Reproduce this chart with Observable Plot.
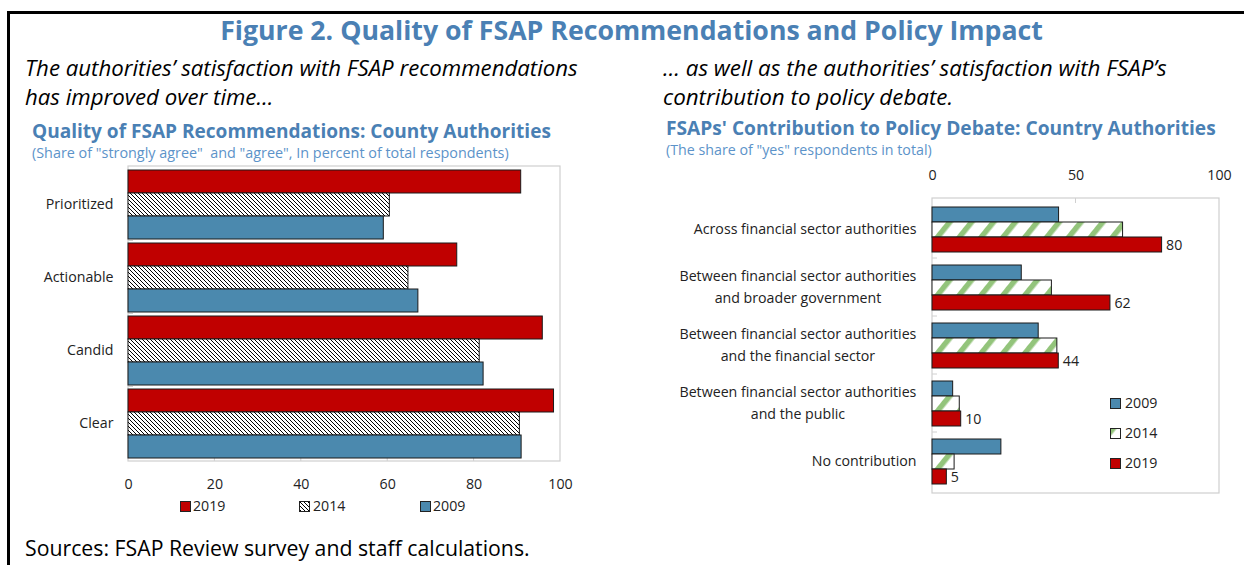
<!DOCTYPE html>
<html><head><meta charset="utf-8">
<script src="https://cdn.jsdelivr.net/npm/d3@7"></script>
<script src="https://cdn.jsdelivr.net/npm/@observablehq/plot@0.6"></script>
<style>
body{margin:0;background:#fff;}
#page{position:relative;width:1244px;height:565px;overflow:hidden;background:#fff;font-family:"Open Sans",sans-serif;color:#000;}
.t{position:absolute;white-space:nowrap;line-height:1;}
.leg{position:absolute;white-space:nowrap;line-height:1;font-size:14.2px;color:#222;}
</style></head><body><div id="page"></div>
<script>
// ---------- Data ----------
const qualityCategories = ["Prioritized", "Actionable", "Candid", "Clear"];
const qualityYears = ["2019", "2014", "2009"];
const quality2019 = [90.9, 76.1, 95.9, 98.5];
const quality2014 = [60.5, 64.8, 81.3, 90.6];
const quality2009 = [59.1, 67.1, 82.2, 91.0];
const qualityTicks = [0, 20, 40, 60, 80, 100];

const debateCategories = [
  "Across financial sector authorities",
  "Between financial sector authorities\nand broader government",
  "Between financial sector authorities\nand the financial sector",
  "Between financial sector authorities\nand the public",
  "No contribution"
];
const debateYears = ["2009", "2014", "2019"];
const debate2009 = [44.1, 31.1, 37.0, 7.2, 24.0];
const debate2014 = [66.4, 41.6, 43.5, 9.5, 7.7];
const debate2019 = [80, 62, 44, 10, 5];
const debateTicks = [0, 50, 100];

const BLUE = "#4B89AE", RED = "#C00000", GREEN = "#93C47B";
const TITLE_BLUE = "#4A80B4", SUB_BLUE = "#5C93C9";
const FONT = "'Open Sans', sans-serif";
const AXIS_SIZE = "14.2px";

const page = document.getElementById("page");

// ---------- Patterns ----------
page.insertAdjacentHTML("beforeend", `
<svg width="0" height="0" style="position:absolute">
  <defs>
    <pattern id="hatchL" patternUnits="userSpaceOnUse" width="4" height="4">
      <rect width="4" height="4" fill="#fff"/>
      <path d="M-1,-1 L5,5 M-1,3 L1,5 M3,-1 L5,1" stroke="#000" stroke-width="1"/>
    </pattern>
    <pattern id="hatchR" patternUnits="userSpaceOnUse" width="17" height="17" patternTransform="rotate(39)">
      <rect width="17" height="17" fill="#fff"/>
      <rect x="0" width="5.5" height="17" fill="${GREEN}"/>
    </pattern>
  </defs>
</svg>`);

// ---------- Frame lines and texts ----------
function addDiv(html, style, cls = "t") {
  const d = document.createElement("div");
  d.className = cls;
  d.innerHTML = html;
  Object.assign(d.style, style);
  page.appendChild(d);
  return d;
}
function addText(html, {x, baseline, width, size, weight = "400", italic = false, color = "#000", center = false}) {
  const d = addDiv(html, {left: x + "px", top: "0px", fontSize: size + "px", fontWeight: weight,
    fontStyle: italic ? "italic" : "normal", color});
  if (width) {
    const w = d.getBoundingClientRect().width;
    size = size * width / w;
    d.style.fontSize = size + "px";
  }
  const w2 = d.getBoundingClientRect().width;
  if (center) d.style.left = (x - w2 / 2) + "px";
  d.style.top = (baseline - 0.888 * size) + "px";
  return size;
}
addDiv("", {left: "8px", top: "11px", width: "1236px", height: "2.5px", background: "#000"});
addDiv("", {left: "7px", top: "11px", width: "2.5px", height: "560px", background: "#000"});

addText("Figure 2. Quality of FSAP Recommendations and Policy Impact",
  {x: 631.5, baseline: 40.5, width: 823, size: 26, weight: "700", color: TITLE_BLUE, center: true});
const sL = addText("The authorities’ satisfaction with FSAP recommendations", {x: 25, baseline: 76.5, width: 553, size: 20, italic: true});
addText("has improved over time…", {x: 25, baseline: 106, size: sL, italic: true});
const sR = addText("… as well as the authorities’ satisfaction with FSAP’s", {x: 663, baseline: 76.5, width: 504, size: 20, italic: true});
addText("contribution to policy debate.", {x: 663, baseline: 106, size: sR, italic: true});

addText("Quality of FSAP Recommendations: County Authorities", {x: 32, baseline: 138.5, width: 519, size: 17, weight: "700", color: TITLE_BLUE});
addText("(Share of \"strongly agree\"&nbsp; and \"agree\", In percent of total respondents)", {x: 32, baseline: 158.5, width: 477, size: 13, color: SUB_BLUE});
addText("FSAPs' Contribution to Policy Debate: Country Authorities", {x: 666, baseline: 136, width: 550, size: 17, weight: "700", color: TITLE_BLUE});
addText("(The share of \"yes\" respondents in total)", {x: 666, baseline: 155.5, width: 266, size: 13, color: SUB_BLUE});

addText("Sources: FSAP Review survey and staff calculations.", {x: 25, baseline: 556, width: 505, size: 20});

// ---------- helpers ----------
function decorate(plot, opts) {
  const svg = d3.select(plot);
  const sx = plot.scale("x");
  const sfy = plot.scale("fy");
  const [x0, x1] = sx.range;
  const [y0, y1] = sfy.range;
  const g = svg.insert("g", "g").attr("class", "box");
  g.append("rect").attr("x", x0).attr("y", y0).attr("width", x1 - x0).attr("height", y1 - y0)
    .attr("fill", "none").attr("stroke", "#cfcfcf").attr("stroke-width", 1.2);
  const dom = sfy.domain;
  const gap = (sfy.step - sfy.bandwidth) / 2;
  for (let i = 1; i < dom.length; i++) {
    const yy = sfy.apply(dom[i]) - gap;
    g.append("line").attr("x1", x0).attr("x2", x0 + 5).attr("y1", yy).attr("y2", yy).attr("stroke", "#d0d0d0");
  }
  for (const v of opts.innerTicks) {
    const xx = sx.apply(v);
    const yb = opts.top ? y0 : y1;
    const ye = opts.top ? y0 + 5 : y1 - 5;
    g.append("line").attr("x1", xx).attr("x2", xx).attr("y1", yb).attr("y2", ye).attr("stroke", "#d0d0d0");
  }
}
function fixMultiline(plot, lh) {
  plot.querySelectorAll("text").forEach(t => {
    const ts = t.querySelectorAll("tspan");
    if (ts.length < 2) return;
    const w = t.getBBox().width;
    t.setAttribute("text-anchor", "middle");
    const n = ts.length;
    ts.forEach((s, i) => {
      s.setAttribute("x", -w / 2);
      s.removeAttribute("dy");
      s.setAttribute("y", `${(i - (n - 1) / 2) * lh + 0.32}em`);
    });
  });
}

// ---------- Left chart ----------
const qualityData = qualityCategories.flatMap((c, i) => [
  {category: c, year: "2019", value: quality2019[i]},
  {category: c, year: "2014", value: quality2014[i]},
  {category: c, year: "2009", value: quality2009[i]}
]);

const left = Plot.plot({
  width: 600, height: 360,
  marginLeft: 128, marginRight: 40, marginTop: 6, marginBottom: 59,
  style: {fontFamily: FONT, fontSize: AXIS_SIZE, color: "#222", background: "transparent"},
  x: {domain: [0, 100], ticks: qualityTicks, tickSize: 0, tickPadding: 20, label: null},
  fy: {domain: qualityCategories, axis: "left", paddingInner: 0.04, paddingOuter: 0.02, tickSize: 0, tickPadding: 15, label: null},
  y: {domain: qualityYears, padding: 0.02, axis: null},
  color: {domain: qualityYears, range: [RED, "url(#hatchL)", BLUE]},
  marks: [
    Plot.barX(qualityData, {x: "value", y: "year", fy: "category", fill: "year", stroke: "#1a1a1a", strokeWidth: 1})
  ]
});
left.style.position = "absolute";
left.style.left = "0px";
left.style.top = "160px";
page.appendChild(left);
decorate(left, {innerTicks: [20, 40, 60, 80], top: false});

// left legend
const legL = [
  {label: "2019", fill: RED, x: 180, tx: 193},
  {label: "2014", fill: "url(#hatchL)", x: 299, tx: 313},
  {label: "2009", fill: BLUE, x: 420, tx: 433}
];
for (const l of legL) {
  addDiv(`<svg width="11" height="11" style="display:block"><rect x="0.5" y="0.5" width="10" height="10" fill="${l.fill}" stroke="#222"/></svg>`,
    {left: l.x + "px", top: "501px"}, "leg");
  addDiv(l.label, {left: l.tx + "px", top: "499px"}, "leg");
}

// ---------- Right chart ----------
const debateData = debateCategories.flatMap((c, i) => [
  {category: c, year: "2009", value: debate2009[i]},
  {category: c, year: "2014", value: debate2014[i]},
  {category: c, year: "2019", value: debate2019[i]}
]);

const right = Plot.plot({
  width: 604, height: 345,
  marginLeft: 292, marginRight: 25, marginTop: 38, marginBottom: 12,
  style: {fontFamily: FONT, fontSize: AXIS_SIZE, color: "#222", background: "transparent"},
  x: {domain: [0, 100], ticks: debateTicks, axis: "top", tickSize: 0, tickPadding: 27, label: null},
  fy: {domain: debateCategories, axis: "left", paddingInner: 0.2, paddingOuter: 0.12, tickSize: 0, tickPadding: 16, label: null},
  y: {domain: debateYears, padding: 0, axis: null},
  color: {domain: debateYears, range: [BLUE, "url(#hatchR)", RED]},
  marks: [
    Plot.barX(debateData, {x: "value", y: "year", fy: "category", fill: "year", stroke: "#1a1a1a", strokeWidth: 1}),
    Plot.text(debateData.filter(d => d.year === "2019"), {
      x: "value", y: "year", fy: "category", text: d => String(d.value),
      textAnchor: "start", dx: 4, fontSize: 14.2, fill: "#222"
    })
  ]
});
right.style.position = "absolute";
right.style.left = "640px";
right.style.top = "160px";
page.appendChild(right);
decorate(right, {innerTicks: [50], top: true});
fixMultiline(right, 1.5);

// right legend
const legR = [
  {label: "2009", fill: BLUE, y: 398},
  {label: "2014", fill: "url(#hatchR)", y: 428},
  {label: "2019", fill: RED, y: 458}
];
for (const l of legR) {
  addDiv(`<svg width="11" height="11" style="display:block"><rect x="0.5" y="0.5" width="10" height="10" fill="${l.fill}" stroke="#222"/></svg>`,
    {left: "1110px", top: l.y + "px"}, "leg");
  addDiv(l.label, {left: "1125px", top: (l.y - 2) + "px"}, "leg");
}
</script></body></html>
